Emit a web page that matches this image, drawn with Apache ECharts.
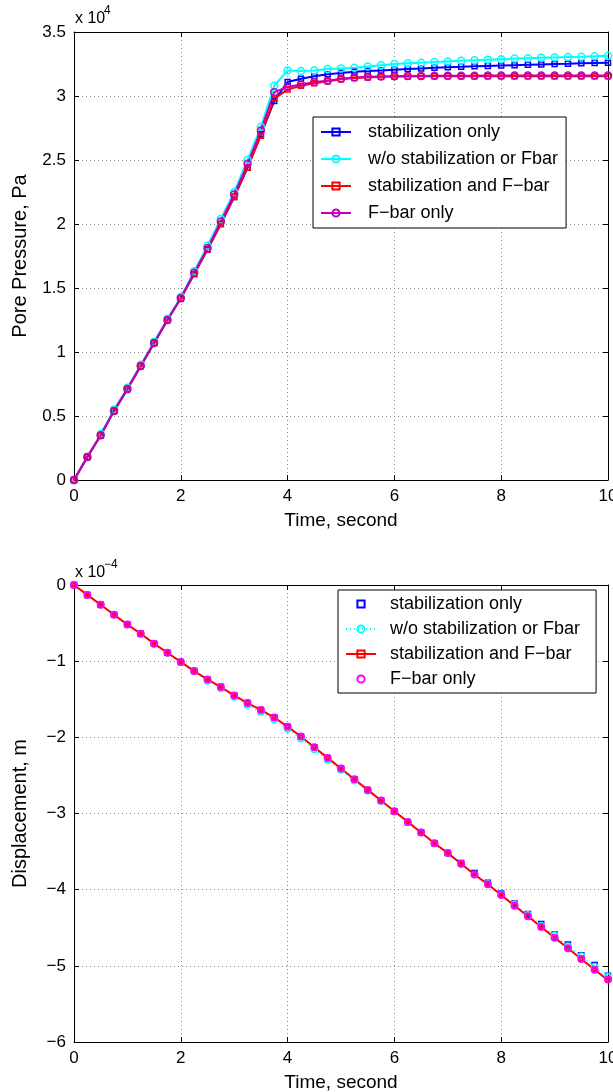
<!DOCTYPE html>
<html>
<head>
<meta charset="utf-8">
<script src="https://cdn.jsdelivr.net/npm/echarts@6/dist/echarts.min.js"></script>
<style>
html,body{margin:0;padding:0;background:#fff;overflow:hidden;width:613px;height:1092px;}
#c1,#c2{width:613px;height:546px;display:block;position:absolute;left:0;}
#c1{top:0;}
#c2{top:546px;}
</style>
</head>
<body>
<div id="c1"></div>
<div id="c2"></div>
<script>
// ---- data ----
const time = [0,0.25,0.5,0.75,1,1.25,1.5,1.75,2,2.25,2.5,2.75,3,3.25,3.5,3.75,4,4.25,4.5,4.75,5,5.25,5.5,5.75,6,6.25,6.5,6.75,7,7.25,7.5,7.75,8,8.25,8.5,8.75,9,9.25,9.5,9.75,10];
const xTicks = [0,2,4,6,8,10];

// Pore pressure, in units of 1e4 Pa
const presStabOnly = [0,0.18,0.35,0.54,0.71,0.89,1.07,1.25,1.42,1.61,1.80,2.00,2.21,2.44,2.70,2.96,3.11,3.135,3.155,3.17,3.18,3.19,3.195,3.20,3.205,3.21,3.215,3.22,3.225,3.228,3.232,3.235,3.238,3.241,3.244,3.247,3.25,3.252,3.255,3.258,3.26];
const presNone = [0,0.18,0.36,0.55,0.72,0.90,1.08,1.26,1.43,1.63,1.83,2.04,2.25,2.50,2.76,3.08,3.20,3.195,3.20,3.21,3.215,3.22,3.23,3.24,3.25,3.255,3.26,3.265,3.27,3.275,3.28,3.284,3.288,3.292,3.295,3.298,3.301,3.304,3.307,3.311,3.315];
const presStabFbar = [0,0.18,0.35,0.54,0.71,0.89,1.07,1.25,1.42,1.61,1.80,2.00,2.21,2.44,2.69,2.98,3.05,3.08,3.10,3.115,3.13,3.14,3.145,3.15,3.152,3.153,3.154,3.155,3.155,3.155,3.155,3.155,3.155,3.155,3.155,3.155,3.155,3.155,3.155,3.155,3.155];
const presFbar = [0,0.18,0.35,0.54,0.71,0.89,1.07,1.25,1.42,1.62,1.81,2.02,2.23,2.47,2.73,3.03,3.07,3.09,3.11,3.12,3.135,3.145,3.15,3.153,3.155,3.156,3.157,3.158,3.158,3.159,3.159,3.16,3.16,3.16,3.16,3.16,3.16,3.16,3.16,3.16,3.16];

// Displacement, in units of 1e-4 m
const dispStabOnly = [0,-0.13,-0.26,-0.39,-0.52,-0.64,-0.77,-0.89,-1.01,-1.13,-1.24,-1.34,-1.45,-1.55,-1.64,-1.74,-1.86,-1.99,-2.13,-2.27,-2.41,-2.55,-2.69,-2.83,-2.97,-3.11,-3.25,-3.39,-3.52,-3.65,-3.78,-3.91,-4.05,-4.18,-4.32,-4.45,-4.59,-4.72,-4.86,-4.99,-5.13];
const dispNone = [0,-0.13,-0.26,-0.39,-0.52,-0.64,-0.77,-0.89,-1.01,-1.13,-1.26,-1.36,-1.47,-1.58,-1.67,-1.77,-1.89,-2.02,-2.16,-2.30,-2.43,-2.57,-2.70,-2.84,-2.97,-3.11,-3.25,-3.39,-3.52,-3.66,-3.80,-3.92,-4.06,-4.19,-4.33,-4.47,-4.60,-4.74,-4.87,-5.01,-5.14];
const dispStabFbar = [0,-0.13,-0.26,-0.39,-0.52,-0.64,-0.77,-0.89,-1.01,-1.13,-1.24,-1.34,-1.45,-1.55,-1.64,-1.74,-1.86,-1.99,-2.13,-2.27,-2.41,-2.55,-2.69,-2.83,-2.97,-3.11,-3.25,-3.39,-3.52,-3.66,-3.80,-3.93,-4.07,-4.21,-4.35,-4.49,-4.63,-4.77,-4.91,-5.05,-5.19];
const dispFbar = [0,-0.13,-0.26,-0.39,-0.52,-0.64,-0.77,-0.89,-1.01,-1.13,-1.24,-1.34,-1.45,-1.55,-1.64,-1.74,-1.86,-1.99,-2.13,-2.27,-2.41,-2.55,-2.69,-2.83,-2.97,-3.11,-3.25,-3.39,-3.52,-3.66,-3.80,-3.93,-4.07,-4.21,-4.35,-4.49,-4.63,-4.77,-4.91,-5.05,-5.18];

const names = ['stabilization only','w/o stabilization or Fbar','stabilization and F\u2212bar','F\u2212bar only'];

// ---- styling helpers ----
const FONT = "'Liberation Sans', Arial, Helvetica, sans-serif";
const pair = arr => time.map((t,i)=>[t, arr[i]]);

function mkSeries(name, arr, color, symbol, size, opts){
  opts = opts || {};
  const showLine = opts.line !== false;
  return {
    name: name, type: 'line', data: pair(arr),
    symbol: symbol, symbolSize: size, showSymbol: true,
    silent: true, animation: false,
    itemStyle: {color: 'rgba(0,0,0,0)', borderColor: color, borderWidth: opts.bw || 1.5},
    lineStyle: showLine ? {color: color, width: opts.lw || 2, type: opts.ltype || 'solid'} : {color: color, width: 0, opacity: 0},
    emphasis: {disabled: true}
  };
}

function xAxes(){
  return [{
    type:'value', min:0, max:10, interval:2, position:'bottom',
    name:'Time, second', nameLocation:'middle', nameGap:31,
    nameTextStyle:{fontFamily:FONT, fontSize:19, color:'#000'},
    axisLine:{show:true, onZero:false, lineStyle:{color:'#000', width:1}},
    axisTick:{show:true, inside:true, length:5, lineStyle:{color:'#000'}},
    axisLabel:{fontFamily:FONT, fontSize:17, color:'#000', margin:8, showMaxLabel:true, hideOverlap:false},
    splitLine:{show:true, lineStyle:{color:'#888', type:[1,3], width:1}}
  },{
    type:'value', min:0, max:10, interval:2, position:'top',
    axisLine:{show:true, onZero:false, lineStyle:{color:'#000', width:1}},
    axisTick:{show:true, inside:true, length:5, lineStyle:{color:'#000'}},
    axisLabel:{show:false}, splitLine:{show:false}
  }];
}
function yAxes(min, max, interval, name, fmt){
  return [{
    type:'value', min:min, max:max, interval:interval, position:'left',
    name:name, nameLocation:'middle', nameGap:44,
    nameTextStyle:{fontFamily:FONT, fontSize:20, color:'#000'},
    axisLine:{show:true, onZero:false, lineStyle:{color:'#000', width:1}},
    axisTick:{show:true, inside:true, length:5, lineStyle:{color:'#000'}},
    axisLabel:{fontFamily:FONT, fontSize:17, color:'#000', margin:8, formatter:fmt, showMaxLabel:true, showMinLabel:true},
    splitLine:{show:true, lineStyle:{color:'#888', type:[1,3], width:1}}
  },{
    type:'value', min:min, max:max, interval:interval, position:'right',
    axisLine:{show:true, onZero:false, lineStyle:{color:'#000', width:1}},
    axisTick:{show:true, inside:true, length:5, lineStyle:{color:'#000'}},
    axisLabel:{show:false}, splitLine:{show:false}
  }];
}
function legend(left, top, gap, pad, txtPad){
  return {
    orient:'vertical', left:left, top:top, itemGap:gap, itemWidth:30, itemHeight:9,
    padding:pad, backgroundColor:'#fff', borderColor:'#000', borderWidth:1, borderRadius:0,
    selectedMode:false,
    textStyle:{fontFamily:FONT, fontSize:18, color:'#000', padding:[0,0,0,txtPad]},
    data:names
  };
}

// ---- top chart: pore pressure ----
const c1 = echarts.init(document.getElementById('c1'), null, {width:613, height:546});
c1.setOption({
  animation:false,
  backgroundColor:'#fff',
  grid:{left:74, right:5, top:32, bottom:66, containLabel:false, outerBoundsMode:'none'},
  xAxis: xAxes(),
  yAxis: yAxes(0, 3.5, 0.5, 'Pore Pressure, Pa', v => String(v)),
  legend: legend(313, 117, 9, [6,8,6,7], 12),
  graphic:[
    {type:'text', left:75, top:11, silent:true, style:{text:'x 10', font:'16px '+FONT, fill:'#000'}},
    {type:'text', left:104, top:5, silent:true, style:{text:'4', font:'12px '+FONT, fill:'#000'}}
  ],
  series:[
    mkSeries(names[0], presStabOnly, '#0000FF', 'rect', 5),
    mkSeries(names[1], presNone, '#00FFFF', 'circle', 7),
    mkSeries(names[2], presStabFbar, '#FF0000', 'rect', 5),
    mkSeries(names[3], presFbar, '#BF00BF', 'circle', 7)
  ]
});

// ---- bottom chart: displacement ----
const c2 = echarts.init(document.getElementById('c2'), null, {width:613, height:546});
c2.setOption({
  animation:false,
  backgroundColor:'#fff',
  grid:{left:74, right:5, top:39, bottom:50, containLabel:false, outerBoundsMode:'none'},
  xAxis: xAxes(),
  yAxis: yAxes(-6, 0, 1, 'Displacement, m', v => v === 0 ? '0' : String(v).replace('-', '\u2212')),
  legend: legend(338, 44, 7, [5,16,5,7], 9),
  graphic:[
    {type:'text', left:75, top:19, silent:true, style:{text:'x 10', font:'16px '+FONT, fill:'#000'}},
    {type:'text', left:104, top:13, silent:true, style:{text:'\u22124', font:'12px '+FONT, fill:'#000'}}
  ],
  series:[
    mkSeries(names[0], dispStabOnly, '#0000FF', 'rect', 5, {line:false, bw:1.5}),
    mkSeries(names[1], dispNone, '#00FFFF', 'circle', 6, {ltype:[1,3], lw:1.5}),
    mkSeries(names[2], dispStabFbar, '#FF0000', 'rect', 3, {lw:2, bw:1.5}),
    mkSeries(names[3], dispFbar, '#FF00FF', 'circle', 6, {line:false, bw:2})
  ]
});
</script>
</body>
</html>
